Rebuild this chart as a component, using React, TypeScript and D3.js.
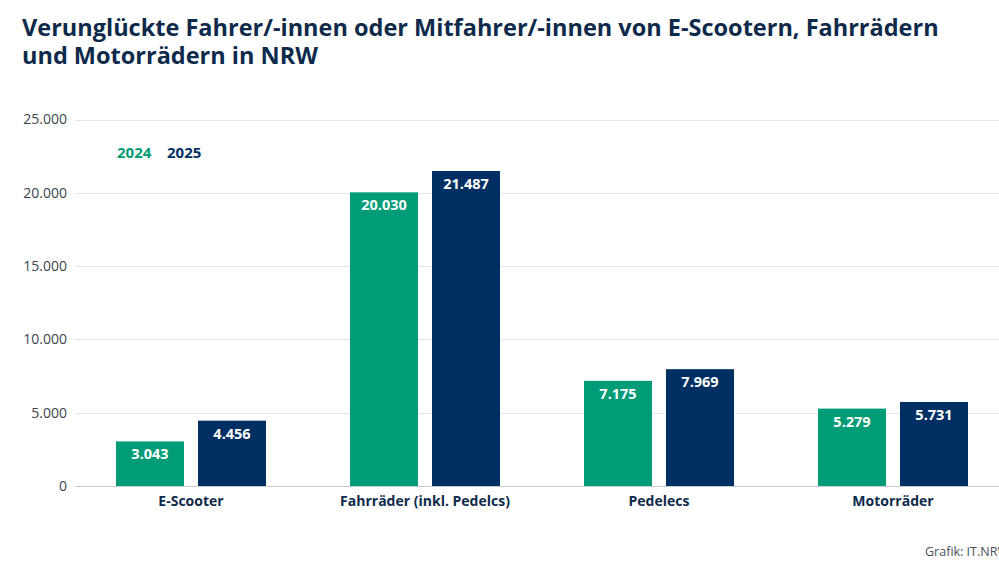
import React from 'react';
import * as d3 from 'd3';

// Data
const categories = ['E-Scooter', 'Fahrräder (inkl. Pedelcs)', 'Pedelecs', 'Motorräder'];
const years = ['2024', '2025'];
const values2024 = [3043, 20030, 7175, 5279];
const values2025 = [4456, 21487, 7969, 5731];
const yTicks = [0, 5000, 10000, 15000, 20000, 25000];
const titleLines = [
  'Verunglückte Fahrer/-innen oder Mitfahrer/-innen von E-Scootern, Fahrrädern',
  'und Motorrädern in NRW',
];

const colors: Record<string, string> = { '2024': '#009b77', '2025': '#003063' };
const navyText = '#0e2a4b';
const font = '"Open Sans", "Noto Sans", sans-serif';

const width = 999;
const height = 565;

const fmt = (v: number) => d3.format(',')(v).replace(/,/g, '.');

const App: React.FC = () => {
  const y = d3.scaleLinear().domain([0, 25000]).range([486, 119.5]);
  const x0 = d3.scaleBand<string>().domain(categories).range([74, 1010]);
  const x1 = d3.scaleBand<string>().domain(years).range([0, 150]).paddingInner(14 / 82);
  const groupOffset = (x0.bandwidth() - 150) / 2;

  const rows = categories.map((c, i) => ({
    cat: c,
    bars: [
      { year: '2024', value: values2024[i] },
      { year: '2025', value: values2025[i] },
    ],
  }));

  return (
    <svg
      width={width}
      height={height}
      style={{ position: 'absolute', left: 0, top: 0, background: '#fff', fontFamily: font }}
    >
      {/* Title */}
      {titleLines.map((t, i) => (
        <text key={i} x={22} y={36 + i * 27.5} fill={navyText} fontSize={23.5} fontWeight={700}>
          {t}
        </text>
      ))}

      {/* Grid + y ticks */}
      {yTicks.map((t) => (
        <g key={t}>
          <line
            x1={75}
            x2={width}
            y1={Math.round(y(t)) + 0.5}
            y2={Math.round(y(t)) + 0.5}
            stroke={t === 0 ? '#c8ccd2' : '#e4e6ea'}
            strokeWidth={1}
          />
          <text
            x={67}
            y={y(t)}
            dy="0.35em"
            textAnchor="end"
            fill="#3d4450"
            fontSize={14}
          >
            {fmt(t)}
          </text>
        </g>
      ))}

      {/* Legend */}
      <text x={117} y={158} fill={colors['2024']} fontSize={15} fontWeight={700}>2024</text>
      <text x={167} y={158} fill={colors['2025']} fontSize={15} fontWeight={700}>2025</text>

      {/* Bars */}
      {rows.map((r) => (
        <g key={r.cat} transform={`translate(${(x0(r.cat) ?? 0) + groupOffset},0)`}>
          {r.bars.map((b) => (
            <g key={b.year}>
              <rect
                x={x1(b.year)}
                y={y(b.value)}
                width={x1.bandwidth()}
                height={y(0) - y(b.value)}
                fill={colors[b.year]}
              />
              <text
                x={(x1(b.year) ?? 0) + x1.bandwidth() / 2}
                y={y(b.value) + 18}
                textAnchor="middle"
                fill="#fff"
                fontSize={14.5}
                fontWeight={700}
              >
                {fmt(b.value)}
              </text>
            </g>
          ))}
          <text x={75} y={506} textAnchor="middle" fill={navyText} fontSize={14} fontWeight={700}>
            {r.cat}
          </text>
        </g>
      ))}

      {/* Source */}
      <text x={925} y={556} fill="#4a505a" fontSize={12.5}>Grafik: IT.NRW</text>
    </svg>
  );
};

export default App;
